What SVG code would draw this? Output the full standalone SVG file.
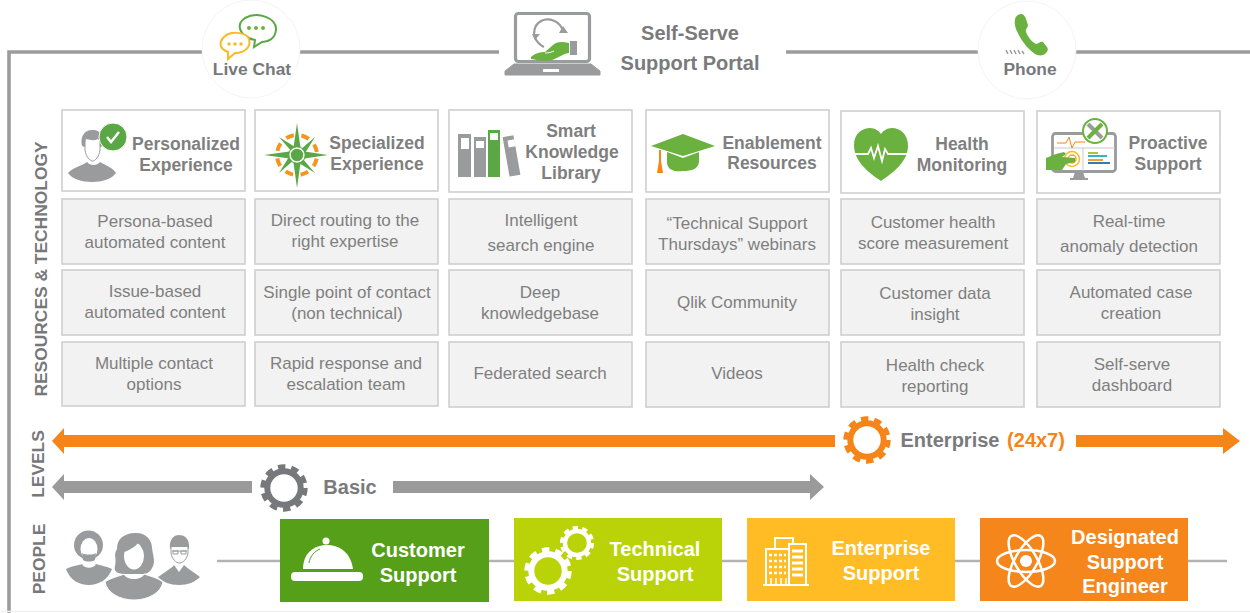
<svg xmlns="http://www.w3.org/2000/svg" xmlns:xlink="http://www.w3.org/1999/xlink" width="1250" height="613" viewBox="0 0 1250 613">
<style>
text{font-family:"Liberation Sans",Arial,sans-serif;text-anchor:middle}
.h{font-size:17.500px;font-weight:bold;fill:#7f7f7f}
.b{font-size:17px;fill:#7f7f7f}
.sec{font-size:17.400px;font-weight:bold;fill:#77787b}
.lg{font-size:20px;font-weight:bold;fill:#7a7a7c}
.w{font-size:20px;font-weight:bold;fill:#fff}
.hd{fill:#fff;stroke:#cfcfcf;stroke-width:1.600}
.cell{fill:#f2f2f2;stroke:#cfcfcf;stroke-width:1.600}
.g{fill:#9a9b9d}
.gn{fill:#6bb13f}
.or{fill:#f58519}
.ln{stroke:#b3b3b3;stroke-width:2.500;fill:none}
.halo{fill:#fff;stroke:#f4f4f4}
</style>
<defs>
<g id="gear" fill="none"><circle r="16.700" stroke-width="6"/><circle r="21.400" stroke-width="4.600" stroke-dasharray="7.500 5.945"/></g>
</defs>

<g id="connectors">
<path d="M9 613V52H1250" fill="none" stroke="#9c9c9c" stroke-width="3.600"/>
<path d="M0 611.500H1250" stroke="#f1f1f1" stroke-width="1.500"/>
<path class="ln" d="M217 561H1227"/>
<path class="or" d="M52 441 64 428V435H835V447H64V454Z"/>
<path class="or" d="M1076 435H1223V428L1240 441 1223 454V447H1076Z"/>
<path d="M52 487 64 474V481H252V493H64V500Z" fill="#9a9a9a"/>
<path d="M393 481H810V474L824 487 810 500V493H393Z" fill="#9a9a9a"/>
</g>

<g id="live-chat">
<circle class="halo" cx="251" cy="49" r="49"/>
<path d="M245 18C258 11 277 18 276 30C275 39 268 42 262 42L254 47 255 40C240 37 235 25 245 18Z" fill="#fff" stroke="#5aa845" stroke-width="2"/>
<circle cx="249" cy="28" r="2" class="gn"/><circle cx="256" cy="28" r="2" class="gn"/><circle cx="263" cy="28" r="2" class="gn"/>
<path d="M224 37C230 31 243 32 248 37C253 46 245 53 235 53L228 59 228 52C220 49 218 43 224 37Z" fill="#fff" stroke="#fdb924" stroke-width="2"/>
<circle cx="229" cy="44" r="1.700" fill="#fdb924"/><circle cx="235" cy="44" r="1.700" fill="#fdb924"/><circle cx="241" cy="44" r="1.700" fill="#fdb924"/>
<text x="252" y="75" class="sec">Live Chat</text>
</g>

<g id="self-serve-portal">
<rect x="499" y="0" width="287" height="82" fill="#fff"/>
<rect x="515.500" y="13.500" width="74" height="48" rx="3" fill="#fff" stroke="#9a9b9d" stroke-width="3.200"/>
<path d="M514 64H591L600 71V75H505V71Z" class="g" stroke="#9a9b9d" stroke-linejoin="round"/>
<rect x="543" y="69" width="16" height="3" fill="#fff"/>
<path d="M563 31C560 21 549 17 541 21C534 25 533 33 535 38C537 42 540 45 544 47" fill="none" stroke="#9a9b9d" stroke-width="2.200"/>
<path d="M559 33H568L563 26ZM532 34H540L535 40Z" class="g"/>
<path d="M531 57C535 53 541 52 545 52L553 45C558 41 563 42 569 43V53C562 54 558 58 552 60C545 62 537 60 531 59Z" class="gn"/>
<path d="M545 53C549 53 552 52 554 51" fill="none" stroke="#fff" stroke-width="1"/>
<rect x="570" y="41" width="7" height="14" class="g"/>
<text x="690" y="40" class="lg">Self-Serve</text>
<text x="690" y="70" class="lg">Support Portal</text>
</g>

<g id="phone">
<circle class="halo" cx="1027" cy="50" r="49"/>
<path d="M1018 15C1022 13 1024 14 1026 19L1028 25C1028 28 1025 29 1026 32C1028 37 1032 42 1036 44C1039 44 1040 41 1043 42L1047 47C1049 50 1047 53 1043 55C1037 57 1032 52 1027 47C1021 40 1013 27 1015 20C1015 18 1016 16 1018 15Z" class="gn"/>
<path d="M1006 50 1008 54M1010 50 1012 54M1014 50 1016 54M1018 50 1020 54M1022 51 1024 54" stroke="#9a9b9d" stroke-width="1.500"/>
<text x="1030" y="75" class="sec">Phone</text>
</g>

<text transform="translate(46.500 269) rotate(-90)" class="sec">RESOURCES &amp; TECHNOLOGY</text>
<text transform="translate(44 464) rotate(-90)" class="sec">LEVELS</text>
<text transform="translate(44.500 559) rotate(-90)" class="sec">PEOPLE</text>

<g id="personalized">
<rect class="hd" x="62" y="110" width="183" height="81"/>
<path d="M68 173C73 167 84 165 87 162C90 166 97 166 100 162C105 165 113 168 116 173C112 179 102 182 92 182C82 182 72 179 68 173Z" class="g"/>
<path d="M82 146C80 137 84 130 92 130C100 129 104 136 103 146L100 147C100 143 100 141 98 139C94 141 90 140 86 139C85 141 85 144 85 147Z" class="g"/>
<path d="M85 140V150C86 157 90 161 92.500 161C95 161 99 157 100 150V140" fill="none" stroke="#9a9b9d" stroke-width="1"/>
<circle cx="113" cy="137" r="14" fill="#5aa845" stroke="#fff"/>
<path d="M107 137 111 142 119 132" fill="none" stroke="#fff" stroke-width="2.500"/>
<text x="186" y="150" class="h">Personalized</text><text x="186" y="171" class="h">Experience</text>
</g>
<g id="persona"><rect class="cell" x="62" y="199" width="183" height="65"/><text x="155" y="227" class="b">Persona-based</text><text x="155" y="248" class="b">automated content</text></g>
<g id="issue"><rect class="cell" x="62" y="270" width="183" height="65"/><text x="155" y="297" class="b">Issue-based</text><text x="155" y="318" class="b">automated content</text></g>
<g id="multiple"><rect class="cell" x="62" y="342" width="183" height="64"/><text x="154" y="369" class="b">Multiple contact</text><text x="154" y="390" class="b">options</text></g>

<g id="specialized">
<rect class="hd" x="255" y="110" width="183" height="81"/>
<circle cx="297" cy="155" r="20" fill="none" stroke="#f7941d" stroke-width="4" stroke-dasharray="8 7.708" stroke-dashoffset="-3.850"/>
<path d="M297 123 301 151 328 155 301 159 297 188 293 159 264 155 293 151Z" fill="#5aa845"/>
<path d="M279 137 300 150 315 137 302 158 315 173 294 160 279 173 292 152Z" fill="#5aa845"/>
<circle cx="297" cy="155" r="7" fill="#5aa845" stroke="#fff" stroke-width="1.500"/>
<circle cx="297" cy="155" r="8.500" fill="none" stroke="#5aa845" stroke-width="1"/>
<text x="377" y="149" class="h">Specialized</text><text x="377" y="170" class="h">Experience</text>
</g>
<g id="direct"><rect class="cell" x="255" y="199" width="183" height="65"/><text x="345" y="226" class="b">Direct routing to the</text><text x="345" y="247" class="b">right expertise</text></g>
<g id="single"><rect class="cell" x="255" y="270" width="183" height="65"/><text x="347" y="298" class="b">Single point of contact</text><text x="347" y="319" class="b">(non technical)</text></g>
<g id="rapid"><rect class="cell" x="255" y="342" width="183" height="64"/><text x="346" y="369" class="b">Rapid response and</text><text x="346" y="390" class="b">escalation team</text></g>

<g id="smart">
<rect class="hd" x="449" y="110" width="183" height="82"/>
<rect class="g" x="458" y="134" width="13" height="43"/><rect x="461" y="138" width="8" height="11" fill="#fff"/>
<rect class="g" x="474" y="137" width="12" height="40"/><rect x="476" y="141" width="8" height="7" fill="#fff"/>
<rect x="488" y="130" width="12" height="47" fill="#5aa845"/><rect x="490" y="133" width="8" height="7" fill="#fff"/>
<rect class="g" x="506" y="136" width="11" height="40" transform="rotate(-10 511 156)"/><rect x="508" y="140" width="7" height="7" fill="#fff" transform="rotate(-10 511 143)"/>
<text x="571" y="137" class="h">Smart</text><text x="572" y="158" class="h">Knowledge</text><text x="571" y="179" class="h">Library</text>
</g>
<g id="intelligent"><rect class="cell" x="449" y="199" width="183" height="65"/><text x="541" y="226" class="b">Intelligent</text><text x="541" y="251" class="b">search engine</text></g>
<g id="deep"><rect class="cell" x="449" y="270" width="183" height="65"/><text x="540" y="298" class="b">Deep</text><text x="540" y="319" class="b">knowledgebase</text></g>
<g id="federated"><rect class="cell" x="449" y="342" width="183" height="65"/><text x="540" y="379" class="b">Federated search</text></g>

<g id="enablement">
<rect class="hd" x="646" y="110" width="183" height="82"/>
<path d="M667 152V163C668 171 676 172 683 171C692 171 698 169 699 162V152L683 158Z" class="gn"/>
<path d="M651 146 683 134 715 146 683 156Z" class="gn"/>
<path d="M659 150H661V161L663 173H657L659 161Z" class="or"/>
<text x="772" y="149" class="h">Enablement</text><text x="772" y="169" class="h">Resources</text>
</g>
<g id="thursdays"><rect class="cell" x="646" y="199" width="183" height="65"/><text x="737" y="229" class="b">“Technical Support</text><text x="737" y="250" class="b">Thursdays” webinars</text></g>
<g id="community"><rect class="cell" x="646" y="270" width="183" height="65"/><text x="737" y="308" class="b">Qlik Community</text></g>
<g id="videos"><rect class="cell" x="646" y="342" width="183" height="65"/><text x="737" y="379" class="b">Videos</text></g>

<g id="health">
<rect class="hd" x="841" y="111" width="183" height="82"/>
<path d="M881 181C866 171 854 160 854 145C854 133 863 128 870 128C875 128 879 131 881 134C883 131 887 128 892 128C900 128 908 134 908 146C908 160 896 171 881 181Z" class="gn"/>
<path d="M855 154H868L871 148 874 158 878 146 882 161 885 149 888 154H907" fill="none" stroke="#fff" stroke-width="1.800"/>
<text x="962" y="150" class="h">Health</text><text x="962" y="171" class="h">Monitoring</text>
</g>
<g id="score"><rect class="cell" x="841" y="199" width="183" height="65"/><text x="933" y="228" class="b">Customer health</text><text x="933" y="249" class="b">score measurement</text></g>
<g id="insight"><rect class="cell" x="841" y="270" width="183" height="65"/><text x="935" y="299" class="b">Customer data</text><text x="935" y="320" class="b">insight</text></g>
<g id="check"><rect class="cell" x="841" y="342" width="183" height="65"/><text x="935" y="371" class="b">Health check</text><text x="935" y="392" class="b">reporting</text></g>

<g id="proactive">
<rect class="hd" x="1037" y="111" width="183" height="82"/>
<rect x="1052.500" y="133.500" width="63" height="38" rx="3" fill="#fff" stroke="#9a9b9d" stroke-width="2.800"/>
<path d="M1075 172H1083L1085 178H1088V180H1070V178H1073Z" class="g"/>
<path d="M1054 148H1115M1083 148V171" stroke="#c9c9c9" stroke-width="1" fill="none"/>
<circle cx="1095" cy="131" r="12" fill="#fff" stroke="#6bb13f" stroke-width="2"/>
<path d="M1088 124 1102 138" stroke="#9a9b9d" stroke-width="4"/><path d="M1102 124 1088 138" stroke="#6bb13f" stroke-width="4"/>
<path d="M1057 143H1066L1069 137 1072 148 1075 142H1085" fill="none" stroke="#f58519" stroke-width="1"/>
<circle cx="1072" cy="159" r="7.500" fill="none" stroke="#fdb924" stroke-width="1.500"/>
<circle cx="1072" cy="159" r="4" fill="none" stroke="#f5a623" stroke-width="1.500"/>
<path d="M1088 153H1098" stroke="#9fc93c" stroke-width="2"/><path d="M1088 156H1107" stroke="#2fb7c6" stroke-width="2"/><path d="M1088 160H1103" stroke="#f0a030" stroke-width="2"/><path d="M1088 163H1110" stroke="#2c7fb8" stroke-width="2"/>
<path d="M1046 158 1056 154 1064 152 1066 154 1062 157 1075 158 1075 162 1066 164 1062 170H1046Z" class="gn"/>
<text x="1168" y="149" class="h">Proactive</text><text x="1168" y="170" class="h">Support</text>
</g>
<g id="anomaly"><rect class="cell" x="1037" y="199" width="183" height="65"/><text x="1129" y="227" class="b">Real-time</text><text x="1129" y="252" class="b">anomaly detection</text></g>
<g id="case"><rect class="cell" x="1037" y="270" width="183" height="65"/><text x="1131" y="298" class="b">Automated case</text><text x="1131" y="319" class="b">creation</text></g>
<g id="dashboard"><rect class="cell" x="1037" y="342" width="183" height="65"/><text x="1132" y="370" class="b">Self-serve</text><text x="1132" y="391" class="b">dashboard</text></g>

<g id="enterprise-level">
<use xlink:href="#gear" transform="translate(867 440)" stroke="#f58519"/>
<text x="950" y="447" class="lg">Enterprise</text>
<text x="1036" y="447" style="font-size:20px;font-weight:bold;fill:#f58519">(24x7)</text>
</g>
<g id="basic-level">
<use xlink:href="#gear" transform="translate(284 488)" stroke="#77787b"/>
<text x="350" y="494" class="lg">Basic</text>
</g>

<g id="people" class="g">
<circle cx="88.500" cy="545" r="14.500"/>
<ellipse cx="89" cy="549" rx="8.500" ry="11" fill="#fff"/>
<path d="M82 553C85 555 93 555 96 553L95 560C92 562 86 562 83 560Z"/>
<path d="M66 569C72 566 80 565 82 564C84 569 94 569 96 564C100 565 108 567 112 569C108 580 98 585 89 585C79 585 70 580 66 569Z"/>
<path d="M134 533C146 532 152 540 152 548C153 556 156 562 152 568C150 573 145 574 142 574H126C120 574 113 573 115 566C117 558 113 555 117 549C117 540 122 534 134 533Z"/>
<ellipse cx="134" cy="556" rx="10" ry="13.500" fill="#fff"/>
<path d="M124 552C130 550 136 546 139 542C141 546 143 549 144 552V542H124Z"/>
<path d="M105 582C110 578 120 576 124 574C126 580 142 580 144 574C150 576 158 578 163 582C161 593 148 600 134 600C120 600 107 593 105 582Z" stroke="#fff"/>
<path d="M170 549C169 539 174 535 179 535C185 535 190 539 189 549L187 547H172Z"/>
<path d="M171 547V553C172 559 176 563 179.500 563C183 563 187 559 188 553V547" fill="#fff" stroke="#9a9b9d"/>
<path d="M172 551H187M173 551H178V554H173ZM181 551H186V554H181Z" fill="none" stroke="#9a9b9d"/>
<path d="M158 577C165 572 172 568 174 565L179 572 184 565C188 569 195 573 200 577C195 582 188 585 179 585C170 585 163 582 158 577Z"/>
</g>
<g id="customer-support">
<rect x="280" y="519" width="209" height="83" fill="#559f19"/>
<path d="M303 569C303 554 313 545 327 545C341 545 351 554 353 569Z" fill="#fff"/>
<circle cx="326" cy="541" r="3.500" fill="#fff"/>
<path d="M309 563C310 556 315 551 320 549" fill="none" stroke="#559f19" stroke-width="1"/>
<rect x="291" y="572" width="72" height="9" rx="4" fill="#fff"/>
<text x="418" y="557" class="w">Customer</text><text x="418" y="582" class="w">Support</text>
</g>
<g id="technical-support">
<rect x="514" y="518" width="208" height="83" fill="#b9d308"/>
<use xlink:href="#gear" transform="translate(548 571)" stroke="#fff"/>
<use xlink:href="#gear" transform="translate(577 543) scale(.72)" stroke="#fff"/>
<text x="655" y="556" class="w">Technical</text><text x="655" y="581" class="w">Support</text>
</g>
<g id="enterprise-support">
<rect x="747" y="518" width="208" height="83" fill="#ffbc24"/>
<g fill="none" stroke="#fff" stroke-width="2"><path d="M763 585H809"/><rect x="766" y="549" width="23" height="36"/><rect x="789" y="544" width="17" height="41"/><path d="M775 549V538H793V544"/></g>
<path d="M769 555H786M769 561H786M769 567H786M769 573H786" stroke="#fff" stroke-width="2.500" stroke-dasharray="3 2"/>
<path d="M771 585V578M776 585V578M781 585V578M786 585V578" stroke="#fff" stroke-width="1.500"/>
<path d="M792 551H803M792 557H803M792 563H803M792 569H803M792 575H803" stroke="#fff" stroke-width="3"/>
<text x="881" y="555" class="w">Enterprise</text><text x="881" y="580" class="w">Support</text>
</g>
<g id="dse">
<rect x="980" y="518" width="208" height="83" fill="#f5861b"/>
<g fill="none" stroke="#fff" stroke-width="2.500"><ellipse cx="1026" cy="561" rx="29" ry="11"/><ellipse cx="1026" cy="561" rx="29" ry="11" transform="rotate(60 1026 561)"/><ellipse cx="1026" cy="561" rx="29" ry="11" transform="rotate(120 1026 561)"/></g>
<circle cx="1026" cy="561" r="6" fill="#fff"/>
<text x="1125" y="544" class="w">Designated</text><text x="1125" y="569" class="w">Support</text><text x="1125" y="593" class="w">Engineer</text>
</g>
</svg>
